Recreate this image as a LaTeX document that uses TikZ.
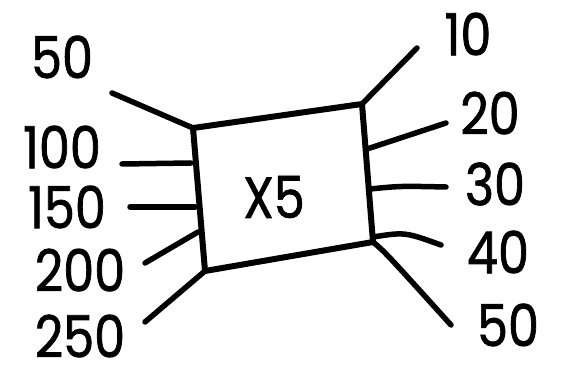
\documentclass[tikz,border=0pt]{standalone}
\usepackage{fontspec}
\setmainfont{Poppins}[FakeStretch=0.85,FakeBold=1.2]
\begin{document}
\begin{tikzpicture}[x=1pt,y=-1pt,
  num/.style={inner sep=0pt,font=\fontsize{58}{60}\selectfont},
  wire/.style={line width=5.5pt,line cap=round,line join=round},
  machine/.style={line width=6pt,line join=round}]
\useasboundingbox (0,0) rectangle (568,374);
% machine corners
\coordinate (TL) at (193,128);
\coordinate (TR) at (362,104);
\coordinate (BR) at (373,242);
\coordinate (BL) at (205,271);
\draw[machine] (TL) -- (TR) -- (BR) -- (BL) -- cycle;
\node[num] (f) at (274,197) {X5};
% outputs (left)
\node[num] (o1) at (62,57) {50};
\node[num] (o2) at (62,147) {100};
\node[num] (o3) at (67,207) {150};
\node[num] (o4) at (80,270) {200};
\node[num] (o5) at (80,336) {250};
% inputs (right)
\node[num] (i1) at (468,34) {10};
\node[num] (i2) at (490,113) {20};
\node[num] (i3) at (495,184) {30};
\node[num] (i4) at (498,252) {40};
\node[num] (i5) at (508,325) {50};
% wire ends
\coordinate (eo1) at (112,93);
\coordinate (eo2) at (122,164);
\coordinate (eo3) at (130,207);
\coordinate (eo4) at (145,263);
\coordinate (eo5) at (145,322);
\coordinate (so2) at (191,163);
\coordinate (so3) at (195,207);
\coordinate (so4) at (198,232);
\coordinate (ei1) at (417,48);
\coordinate (ei2) at (446,123);
\coordinate (ei3) at (446,187);
\coordinate (ei4) at (441,245);
\coordinate (ei5) at (451,325);
\coordinate (si2) at (367,149);
\coordinate (si3) at (370,189);
\coordinate (si4) at (373,237);
\draw[wire] (TL) -- (eo1);
\draw[wire] (so2) -- (eo2);
\draw[wire] (so3) -- (eo3);
\draw[wire] (so4) -- (eo4);
\draw[wire] (BL) -- (eo5);
\draw[wire] (TR) -- (ei1);
\draw[wire] (si2) -- (ei2);
\draw[wire] (si3) .. controls (400,186) .. (ei3);
\draw[wire] (si4) .. controls (405,232) .. (ei4);
\draw[wire] (BR) .. controls (385,252) .. (ei5);
\end{tikzpicture}
\end{document}
